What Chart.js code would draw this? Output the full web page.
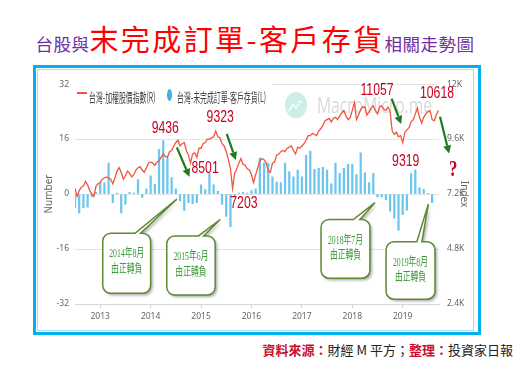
<!DOCTYPE html>
<html>
<head>
<meta charset="utf-8">
<script src="https://cdn.jsdelivr.net/npm/chart.js@4.4.1/dist/chart.umd.min.js"></script>
<style>
  html, body { margin: 0; padding: 0; background: #fff; }
  body { width: 528px; height: 366px; position: relative; overflow: hidden;
         font-family: "Noto Sans CJK TC", "Noto Sans", sans-serif; }
  .title { position: absolute; left: 32px; width: 446px; top: 24px; text-align: center;
           white-space: nowrap; font-size: 29px; line-height: 1; }
  .title .s { color: #7030a0; font-size: 17.5px; letter-spacing: 0.5px; }
  .title .b { color: #ff0000; letter-spacing: 2.4px; }
  .frame { position: absolute; left: 33px; top: 65px; width: 442px; height: 264px;
           border: 3px solid #00b0f0; background: #fff; }
  .inner { position: absolute; left: 37px; top: 69px; width: 435px; height: 260px;
           border: 1px solid #a8dff5; }
  #wrap { position: absolute; left: 38px; top: 71px; width: 435px; height: 258px; }
  .legend { position: absolute; left: 75px; top: 82px; width: 197px; height: 22px; background: #fff; }
  .legend .dash { position: absolute; left: 2px; top: 10px; width: 10px; height: 2px; background: #f2553d; }
  .legend .dot { position: absolute; left: 92px; top: 7px; width: 5px; height: 12px; border-radius: 50%; background: #3fb0e0; }
  .legend .lt { position: absolute; top: 8px; font-size: 13px; line-height: 13px; color: #444;
                white-space: nowrap; transform: scaleX(0.53); transform-origin: 0 50%; }
  .source { position: absolute; right: 15px; top: 343px; font-size: 13px; line-height: 14px; color: #222; white-space: nowrap; }
  .source .r { color: #c8102e; font-weight: bold; }
</style>
</head>
<body>
<div class="title"><span class="s">台股與</span><span class="b">末完成訂單-客戶存貨</span><span class="s">相關走勢圖</span></div>
<div class="frame"></div>
<div class="inner"></div>
<div id="wrap"><canvas id="chart" width="435" height="258"></canvas></div>
<div class="legend">
  <span class="dash"></span><span class="lt" style="left:14px">台灣-加權股價指數(R)</span>
  <span class="dot"></span><span class="lt" style="left:102px">台灣-未完成訂單-客戶存貨(L)</span>
</div>
<div class="source"><span class="r">資料來源：</span>財經 M 平方；<span class="r">整理：</span>投資家日報</div>

<script>
// monthly bars start Jul 2012, half-monthly index points start Jul 2012
const startYear = 2012.5;
const yearTicks = [2013, 2014, 2015, 2016, 2017, 2018, 2019];
const numberTicks = [-32, -16, 0, 16, 32];
const indexTicks = [2400, 4800, 7200, 9600, 12000];
const indexTickLabels = ['2.4K', '4.8K', '7.2K', '9.6K', '12K'];

// 台灣-未完成訂單-客戶存貨 (L), one value per month
const unfilledOrders = [
  -4, -5.5, -4, -3.8, -0.8, 0.5,
  3.5, 3.3, 9, -2.5, 0.3, -5.5, -3, 0.5, 0.3, 4.2, -1, 1.5,
  5.3, 2.8, 13, 15.5, 10.5, 4.8, 1.5, -2, -4.8, -2.5, -2.8, -2.5,
  2.7, 1.3, 6, 2.7, 0.8, -3, -6.5, -9.5, -0.5, 0.3, 0.5, 0.3,
  1, 1.5, 10.5, 9, 9, 5, 3.5, 3.3, 9, 6.5, 5, 7,
  5, 11.3, 12.5, 7.2, 7.5, 7.8, 7, 3, 9, 6, 7.5, 8.7,
  8.7, 5.7, 12, 6.2, 3.3, 6, -0.8, -0.8, -1.7, -5, -7, -10.5,
  -6, -4.7, 6, 7, 1.8, 1.4, 0.2, -2.5
];

// 台灣-加權股價指數 (R), two readings per month
const taiex = [
  7450, 7100, 7350, 7500, 7550, 7750, 7600, 7350, 7200, 7100, 7550, 7650,
  7700, 7850, 7900, 7950, 7900, 7850, 7650, 7900, 8200, 8350, 8150, 7850,
  8000, 8200, 8100, 7950, 8050, 8250, 8350, 8400, 8250, 8150, 8350, 8550,
  8600, 8550, 8450, 8600, 8650, 8800, 8950, 8850, 8800, 9050, 9100, 9300,
  9450, 9550, 9300, 9400, 9450, 9100, 8900, 8550, 8950, 9000, 8800, 9200,
  9200, 9400, 9450, 9600, 9600, 9650, 9700, 9950, 9700, 9650, 9400, 9300,
  9050, 8700, 8300, 7450, 8100, 8300, 8550, 8750, 8500, 8450, 8300, 8250,
  8050, 7700, 8050, 8350, 8650, 8750, 8700, 8550, 8200, 8150, 8550, 8600,
  8900, 8950, 9050, 9100, 9050, 9200, 9250, 9300, 9100, 8950, 9250, 9200,
  9300, 9400, 9550, 9750, 9750, 9850, 9800, 9750, 9950, 10050, 10200, 10400,
  10450, 10500, 10350, 10500, 10550, 10450, 10600, 10750, 10850, 10600, 10450, 10550,
  10850, 11200, 10450, 10650, 10900, 11000, 11000, 10650, 10800, 10950, 11050, 10850,
  10700, 11000, 11050, 10900, 10850, 11000, 10800, 9950, 9800, 9900, 9700, 9750,
  9450, 9900, 10000, 10100, 10350, 10450, 10700, 10950, 10550, 10300, 10550, 10700,
  10800, 10850, 10450, 10400, 10650, 10850
];

// annotation text, placed in data units (x: year, y: left axis)
const peakLabels = [
  { text: '9436', x: 2014.29, y: 19.2 },
  { text: '9323', x: 2015.38, y: 22.4 },
  { text: '8501', x: 2015.08, y: 7.6 },
  { text: '7203', x: 2015.85, y: -2.7 },
  { text: '11057', x: 2018.49, y: 30.3 },
  { text: '10618', x: 2019.68, y: 29.4 },
  { text: '9319', x: 2019.06, y: 9.6 }
];
const arrows = [
  [2014.52, 13.6, 2014.77, 5.0],
  [2015.51, 17.5, 2015.69, 9.9],
  [2018.78, 27.8, 2018.97, 20.4],
  [2019.74, 22.5, 2019.92, 11.8]
];
const callouts = [
  { lines: ['2014年8月', '由正轉負'], x1: 2013.05, x2: 2014.00, y1: -11.4, y2: -28.9, b1: 2013.69, b2: 2013.80, tx: 2014.52, ty: -1.5 },
  { lines: ['2015年6月', '由正轉負'], x1: 2014.32, x2: 2015.28, y1: -12.2, y2: -29.4, b1: 2014.95, b2: 2015.05, tx: 2015.38, ty: -7.4 },
  { lines: ['2018年7月', '由正轉負'], x1: 2017.38, x2: 2018.35, y1: -7.4, y2: -24.5, b1: 2018.02, b2: 2018.15, tx: 2018.45, ty: -2.5 },
  { lines: ['2019年8月', '由正轉負'], x1: 2018.67, x2: 2019.64, y1: -13.9, y2: -30.6, b1: 2019.28, b2: 2019.38, tx: 2019.51, ty: -2.9 }
];

function squeezed(ctx, text, x, y, sx) {
  ctx.save();
  ctx.translate(x, y);
  ctx.scale(sx, 1);
  ctx.fillText(text, 0, 0);
  ctx.restore();
}

function drawArrow(ctx, x0, y0, x1, y1) {
  const a = Math.atan2(y1 - y0, x1 - x0);
  const head = 8, w = 4;
  const bx = x1 - head * Math.cos(a), by = y1 - head * Math.sin(a);
  ctx.beginPath();
  ctx.moveTo(x0, y0);
  ctx.lineTo(bx, by);
  ctx.stroke();
  ctx.beginPath();
  ctx.moveTo(x1, y1);
  ctx.lineTo(bx + w * Math.sin(a), by - w * Math.cos(a));
  ctx.lineTo(bx - w * Math.sin(a), by + w * Math.cos(a));
  ctx.closePath();
  ctx.fill();
}

function calloutPath(ctx, x1, y1, x2, y2, b1, b2, tx, ty) {
  const r = 8;
  ctx.beginPath();
  ctx.moveTo(x1 + r, y1);
  ctx.lineTo(b1, y1);
  ctx.lineTo(tx, ty);
  ctx.lineTo(b2, y1);
  ctx.arcTo(x2, y1, x2, y2, r);
  ctx.arcTo(x2, y2, x1, y2, r);
  ctx.arcTo(x1, y2, x1, y1, r);
  ctx.arcTo(x1, y1, x2, y1, r);
  ctx.closePath();
}

const annotatePlugin = {
  id: 'annotate',
  beforeDatasetsDraw(chart) {
    // MacroMicro watermark
    const ctx = chart.ctx, a = chart.chartArea;
    ctx.save();
    ctx.fillStyle = '#cdeee6';
    ctx.beginPath();
    ctx.ellipse(a.left + 221, a.top + 21, 11, 13, 0, 0, Math.PI * 2);
    ctx.fill();
    ctx.strokeStyle = '#fff';
    ctx.lineWidth = 1.2;
    ctx.beginPath();
    ctx.moveTo(a.left + 214, a.top + 27);
    ctx.lineTo(a.left + 218, a.top + 20);
    ctx.lineTo(a.left + 221, a.top + 24);
    ctx.lineTo(a.left + 225, a.top + 17);
    ctx.lineTo(a.left + 228, a.top + 19);
    ctx.stroke();
    ctx.fillStyle = '#d9d9d9';
    ctx.font = '22px "Open Sans", sans-serif';
    ctx.textBaseline = 'alphabetic';
    ctx.fillText('MacroMicro.me', a.left + 242, a.top + 29, 115);
    ctx.restore();
  },
  afterDatasetsDraw(chart) {
    const ctx = chart.ctx;
    const xs = chart.scales.x, ys = chart.scales.y;
    const px = v => xs.getPixelForValue(v);
    const py = v => ys.getPixelForValue(v);
    ctx.save();

    // callout boxes
    callouts.forEach(c => {
      const x1 = px(c.x1), x2 = px(c.x2), y1 = py(c.y1), y2 = py(c.y2);
      ctx.save();
      ctx.shadowColor = 'rgba(0,0,0,0.35)';
      ctx.shadowBlur = 3;
      ctx.shadowOffsetX = 2;
      ctx.shadowOffsetY = 2;
      calloutPath(ctx, x1, y1, x2, y2, px(c.b1), px(c.b2), px(c.tx), py(c.ty));
      ctx.fillStyle = '#fff';
      ctx.fill();
      ctx.restore();
      calloutPath(ctx, x1, y1, x2, y2, px(c.b1), px(c.b2), px(c.tx), py(c.ty));
      ctx.strokeStyle = '#5e8a33';
      ctx.lineWidth = 1.5;
      ctx.stroke();
      ctx.fillStyle = '#3c9a3c';
      ctx.font = '12px "Liberation Serif", "Noto Sans CJK TC", serif';
      ctx.textAlign = 'center';
      ctx.textBaseline = 'middle';
      const cx = (x1 + x2) / 2;
      squeezed(ctx, c.lines[0], cx, y1 + 21, 0.65);
      squeezed(ctx, c.lines[1], cx, y1 + 36.5, 0.65);
    });

    // green arrows
    ctx.strokeStyle = '#1f7a1f';
    ctx.fillStyle = '#1f7a1f';
    ctx.lineWidth = 2.2;
    arrows.forEach(a => drawArrow(ctx, px(a[0]), py(a[1]), px(a[2]), py(a[3])));

    // red index labels
    ctx.fillStyle = '#c8001e';
    ctx.font = '17px "Liberation Sans", sans-serif';
    ctx.textAlign = 'center';
    ctx.textBaseline = 'middle';
    peakLabels.forEach(l => squeezed(ctx, l.text, px(l.x), py(l.y), 0.72));
    ctx.font = 'bold 24px "Liberation Serif", serif';
    squeezed(ctx, '?', px(2020.0), py(7.0), 0.7);
    ctx.restore();
  }
};

const tickFont = { family: '"Noto Sans", sans-serif', size: 8.5 };
const titleFont = { family: '"Noto Sans", sans-serif', size: 10 };

new Chart(document.getElementById('chart'), {
  type: 'bar',
  data: {
    datasets: [
      {
        type: 'line',
        label: '台灣-加權股價指數(R)',
        yAxisID: 'y1',
        data: taiex.map((v, i) => ({ x: startYear + i / 24, y: v })),
        borderColor: '#f2553d',
        borderWidth: 1.3,
        pointRadius: 0,
        tension: 0,
        order: 0
      },
      {
        type: 'bar',
        label: '台灣-未完成訂單-客戶存貨(L)',
        yAxisID: 'y',
        data: unfilledOrders.map((v, i) => ({ x: startYear + i / 12, y: v })),
        backgroundColor: '#6cc6ee',
        barThickness: 1.6,
        order: 1
      }
    ]
  },
  options: {
    responsive: false,
    animation: false,
    layout: { padding: { top: 13, left: 0, right: 0, bottom: 0 } },
    plugins: { legend: { display: false }, tooltip: { enabled: false } },
    scales: {
      x: {
        type: 'linear',
        min: startYear,
        max: 2019.72,
        offset: false,
        afterBuildTicks: s => { s.ticks = yearTicks.map(v => ({ value: v })); },
        afterFit: s => { s.height = 25; },
        ticks: { callback: v => String(v), color: '#666', font: tickFont, padding: 3, maxRotation: 0 },
        grid: { offset: false, drawOnChartArea: false, drawTicks: true, tickLength: 4, color: '#cfcfcf' },
        border: { color: '#d6d6d6' }
      },
      y: {
        position: 'left',
        min: -32,
        max: 32,
        afterBuildTicks: s => { s.ticks = numberTicks.map(v => ({ value: v })); },
        afterFit: s => { s.width = 37; },
        ticks: { color: '#666', font: tickFont, padding: 6 },
        grid: { color: '#e4e4e4', drawTicks: false },
        border: { display: false },
        title: { display: true, text: 'Number', color: '#666', font: titleFont, padding: { top: 5, bottom: 0 } }
      },
      y1: {
        position: 'right',
        min: 2400,
        max: 12000,
        afterBuildTicks: s => { s.ticks = indexTicks.map(v => ({ value: v })); },
        afterFit: s => { s.width = 34; },
        ticks: { color: '#666', font: tickFont, padding: 8, callback: (v, i) => indexTickLabels[i] },
        grid: { drawOnChartArea: false, drawTicks: false },
        border: { display: false },
        title: { display: true, text: 'Index', color: '#666', font: titleFont, padding: { top: 3, bottom: 0 } }
      }
    }
  },
  plugins: [annotatePlugin]
});
</script>
</body>
</html>
